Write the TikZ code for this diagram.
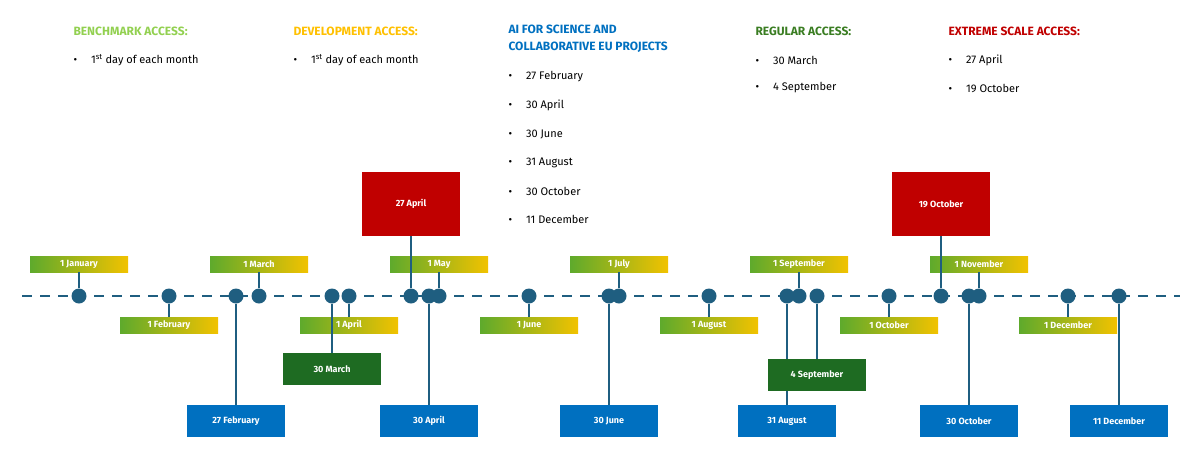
\documentclass[tikz,border=0pt]{standalone}
\usepackage{fontspec}
\setmainfont{Fira Sans}
\usetikzlibrary{positioning}
\definecolor{dotblue}{HTML}{1F5E80}
\definecolor{boxblue}{HTML}{0070C0}
\definecolor{boxgreen}{HTML}{1E6B22}
\definecolor{boxred}{HTML}{C00000}
\definecolor{gradg}{HTML}{5EAA2C}
\definecolor{grady}{HTML}{F2C200}
\definecolor{hbench}{HTML}{92D050}
\definecolor{hdev}{HTML}{FFC000}
\definecolor{hreg}{HTML}{3A7D22}
\tikzset{
  dot/.style={circle,fill=dotblue,inner sep=0pt,minimum size=15pt},
  month/.style={minimum width=98pt,minimum height=16pt,inner sep=0pt,left color=gradg,right color=grady,
    text=white,font=\fontsize{9}{10}\selectfont\bfseries},
  call/.style={minimum width=98pt,minimum height=32pt,inner sep=0pt,text=white,font=\fontsize{9}{10}\selectfont\bfseries},
  head/.style={anchor=west,font=\fontsize{12}{17}\selectfont\bfseries,align=left},
  item/.style={anchor=west,font=\fontsize{11}{13}\selectfont},
  stem/.style={dotblue,line width=1.2pt}
}
\begin{document}
\begin{tikzpicture}[x=1pt,y=-1pt]
\useasboundingbox (0,0) rectangle (1200,459);
% timeline
\draw[dotblue,line width=2.5pt,dash pattern=on 10pt off 8pt] (22,296) -- (1180,296);
% first of each month
\foreach \n/\x/\y/\t in {jan/79/264/1 January,feb/169/325/1 February,mar/259/264/1 March,
  apr/349/325/1 April,may/439/264/1 May,jun/529/325/1 June,jul/619/264/1 July,
  aug/709/325/1 August,sep/799/264/1 September,oct/889/325/1 October,
  nov/979/264/1 November,dec/1068/325/1 December}{
  \node[month] (m\n) at (\x,\y) {\t};
  \node[dot] (d\n) at (\x,296) {};
  \draw[stem] (d\n) -- (m\n);
}
% AI for science
\foreach \n/\x/\t in {feb/236/27 February,apr/429/30 April,jun/609/30 June,
  aug/787/31 August,oct/969/30 October,dec/1119/11 December}{
  \node[call,fill=boxblue] (b\n) at (\x,421) {\t};
  \node[dot] (e\n) at (\x,296) {};
  \draw[stem] (e\n) -- (b\n);
}
% regular access
\node[call,fill=boxgreen] (gmar) at (332,369) {30 March};
\node[dot] (fmar) at (332,296) {};
\draw[stem] (fmar) -- (gmar);
\node[call,fill=boxgreen] (gsep) at (817,375) {4 September};
\node[dot] (fsep) at (817,296) {};
\draw[stem] (fsep) -- (gsep);
% extreme scale
\node[call,fill=boxred,minimum height=64pt] (rapr) at (411,204) {27 April};
\node[dot] (sapr) at (411,296) {};
\draw[stem] (sapr) -- (rapr);
\node[call,fill=boxred,minimum height=64pt] (roct) at (941,204) {19 October};
\node[dot] (soct) at (941,296) {};
\draw[stem] (soct) -- (roct);
% headers
\node[head,text=hbench] at (70,31) {BENCHMARK ACCESS:};
\node[item] at (70,60) {\textbullet\hspace{14pt}1\textsuperscript{st} day of each month};
\node[head,text=hdev] at (290,31) {DEVELOPMENT ACCESS:};
\node[item] at (290,60) {\textbullet\hspace{14pt}1\textsuperscript{st} day of each month};
\node[head,text=boxblue] at (505,39) {AI FOR SCIENCE AND\\COLLABORATIVE EU PROJECTS};
\foreach \t [count=\i from 0] in {27 February,30 April,30 June,31 August,30 October,11 December}
  \node[item] at (505,77+28.5*\i) {\textbullet\hspace{14pt}\t};
\node[head,text=hreg] at (752,31) {REGULAR ACCESS:};
\node[item] at (752,60) {\textbullet\hspace{14pt}30 March};
\node[item] at (752,88) {\textbullet\hspace{14pt}4 September};
\node[head,text=boxred] at (945,31) {EXTREME SCALE ACCESS:};
\node[item] at (945,60) {\textbullet\hspace{14pt}27 April};
\node[item] at (945,88) {\textbullet\hspace{14pt}19 October};
\end{tikzpicture}
\end{document}
